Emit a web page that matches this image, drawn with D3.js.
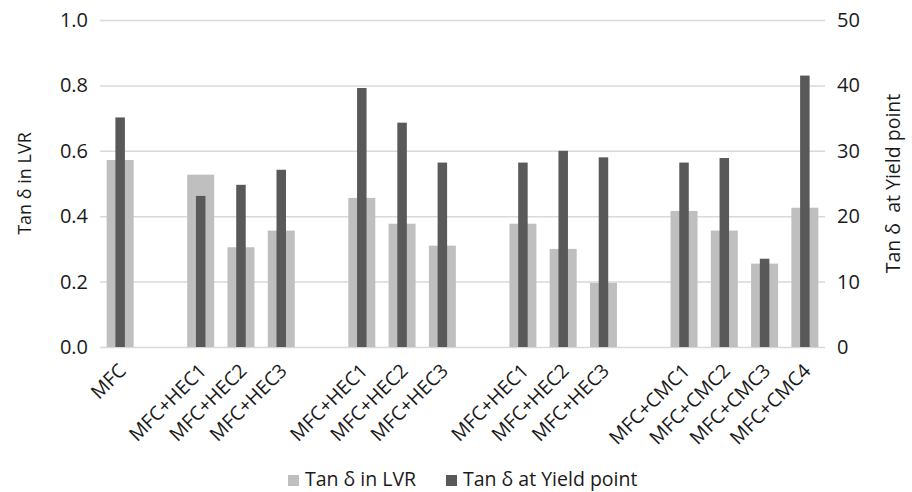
<!DOCTYPE html>
<html>
<head>
<meta charset="utf-8">
<script src="https://cdn.jsdelivr.net/npm/d3@7"></script>
<style>
  html, body { margin: 0; padding: 0; background: #fff; }
  svg { display: block; font-family: "Open Sans", "Noto Sans", sans-serif; }
</style>
</head>
<body>
<svg id="chart" width="912" height="492"></svg>
<script>
// Sample labels; empty strings are spacer slots between sample groups
const categories = [
  "MFC", "",
  "MFC+HEC1", "MFC+HEC2", "MFC+HEC3", "",
  "MFC+HEC1", "MFC+HEC2", "MFC+HEC3", "",
  "MFC+HEC1", "MFC+HEC2", "MFC+HEC3", "",
  "MFC+CMC1", "MFC+CMC2", "MFC+CMC3", "MFC+CMC4"
];

// Tan δ in the linear viscoelastic region (left axis)
const tanDeltaLVR = [
  0.572, null,
  0.527, 0.305, 0.356, null,
  0.456, 0.377, 0.310, null,
  0.377, 0.300, 0.196, null,
  0.416, 0.356, 0.255, 0.426
];

// Tan δ at the yield point (right axis)
const tanDeltaYield = [
  35.1, null,
  23.1, 24.8, 27.1, null,
  39.6, 34.3, 28.2, null,
  28.2, 30.0, 29.0, null,
  28.2, 28.9, 13.5, 41.5
];

const leftTicks = [0, 0.2, 0.4, 0.6, 0.8, 1.0];
const rightTicks = [0, 10, 20, 30, 40, 50];

const seriesNames = ["Tan δ in LVR", "Tan δ at Yield point"];
const seriesColors = ["#bfbfbf", "#595959"];

const svg = d3.select("#chart");
const plot = { left: 100, right: 825, top: 20, bottom: 347 };
const textColor = "#1a1a1a";

const x = d3.scaleBand()
  .domain(d3.range(categories.length))
  .range([plot.left, plot.right])
  .padding(0);

const yLeft = d3.scaleLinear().domain([0, 1.0]).range([plot.bottom, plot.top]);
const yRight = d3.scaleLinear().domain([0, 50]).range([plot.bottom, plot.top]);

// Gridlines
svg.append("g")
  .selectAll("line")
  .data(leftTicks)
  .join("line")
  .attr("x1", plot.left)
  .attr("x2", plot.right)
  .attr("y1", d => yLeft(d) + 0.5)
  .attr("y2", d => yLeft(d) + 0.5)
  .attr("stroke", "#d9d9d9")
  .attr("stroke-width", 1.5);

// Left axis labels
const leftAxis = d3.axisLeft(yLeft)
  .tickValues(leftTicks)
  .tickFormat(d3.format(".1f"))
  .tickSize(0)
  .tickPadding(12);
const gl = svg.append("g")
  .attr("transform", `translate(${plot.left},0)`)
  .call(leftAxis);
gl.select(".domain").remove();
gl.selectAll("text")
  .attr("font-size", 20)
  .attr("fill", textColor)
  .attr("font-family", "Open Sans, sans-serif");

// Right axis labels
const rightAxis = d3.axisRight(yRight)
  .tickValues(rightTicks)
  .tickFormat(d3.format("d"))
  .tickSize(0)
  .tickPadding(12);
const gr = svg.append("g")
  .attr("transform", `translate(${plot.right},0)`)
  .call(rightAxis);
gr.select(".domain").remove();
gr.selectAll("text")
  .attr("font-size", 20)
  .attr("fill", textColor)
  .attr("font-family", "Open Sans, sans-serif");

// Wide light bars (left axis)
const wideW = x.bandwidth() * 0.67;
svg.append("g")
  .selectAll("rect")
  .data(tanDeltaLVR.map((v, i) => ({ v, i })).filter(d => d.v !== null))
  .join("rect")
  .attr("x", d => x(d.i) + (x.bandwidth() - wideW) / 2)
  .attr("width", wideW)
  .attr("y", d => yLeft(d.v))
  .attr("height", d => yLeft(0) - yLeft(d.v))
  .attr("fill", seriesColors[0]);

// Narrow dark bars (right axis)
const narrowW = 9.5;
svg.append("g")
  .selectAll("rect")
  .data(tanDeltaYield.map((v, i) => ({ v, i })).filter(d => d.v !== null))
  .join("rect")
  .attr("x", d => x(d.i) + (x.bandwidth() - narrowW) / 2)
  .attr("width", narrowW)
  .attr("y", d => yRight(d.v))
  .attr("height", d => yRight(0) - yRight(d.v))
  .attr("fill", seriesColors[1]);

// Category labels, rotated
const bottomAxis = d3.axisBottom(x)
  .tickFormat(i => categories[i])
  .tickSize(0)
  .tickPadding(0);
const gb = svg.append("g")
  .attr("transform", `translate(0,${plot.bottom})`)
  .call(bottomAxis);
gb.select(".domain").remove();
gb.selectAll("text")
  .attr("font-size", 19.5)
  .attr("fill", textColor)
  .attr("font-family", "Open Sans, sans-serif")
  .attr("text-anchor", "end")
  .attr("dy", "0")
  .attr("transform", "translate(7,25) rotate(-45)");

// Axis titles
svg.append("text")
  .attr("transform", `translate(31,${(plot.top + plot.bottom) / 2}) rotate(-90)`)
  .attr("text-anchor", "middle")
  .attr("font-size", 18)
  .attr("fill", textColor)
  .text("Tan δ in LVR");

svg.append("text")
  .attr("transform", `translate(900,${(plot.top + plot.bottom) / 2}) rotate(-90)`)
  .attr("text-anchor", "middle")
  .attr("font-size", 19.5)
  .attr("fill", textColor)
  .style("white-space", "pre")
  .text("Tan δ  at Yield point");

// Legend
const legendItems = [
  { name: seriesNames[0], color: seriesColors[0], x: 288 },
  { name: seriesNames[1], color: seriesColors[1], x: 446 }
];
const lg = svg.append("g");
legendItems.forEach(item => {
  lg.append("rect")
    .attr("x", item.x)
    .attr("y", 475)
    .attr("width", 11)
    .attr("height", 11)
    .attr("fill", item.color);
  lg.append("text")
    .attr("x", item.x + 17)
    .attr("y", 486)
    .attr("font-size", 19.5)
    .attr("fill", textColor)
    .text(item.name);
});
</script>
</body>
</html>
